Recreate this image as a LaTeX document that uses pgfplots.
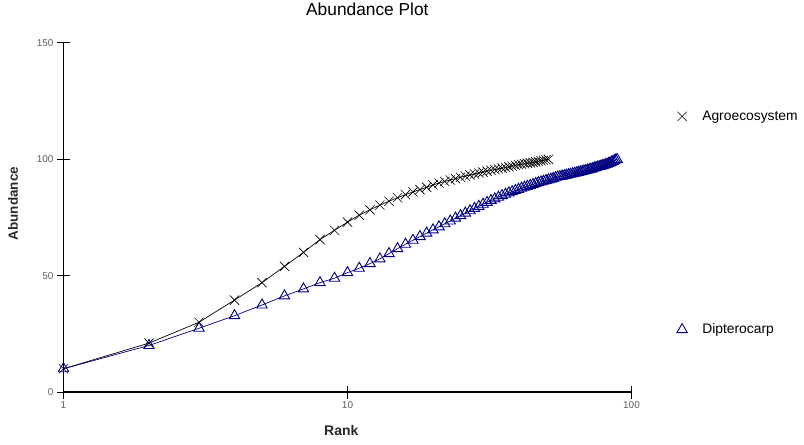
\documentclass[border=0pt]{standalone}
\usepackage{pgfplots}
\usepackage{pgfplotstable}
\pgfplotsset{compat=1.18}
\usepackage{fontspec}
\setmainfont{Liberation Sans}
\definecolor{navyc}{RGB}{0,0,128}
\definecolor{ticklab}{RGB}{95,95,95}
\definecolor{labc}{RGB}{40,40,40}

\pgfplotstableread{
rank value
1 10
2 21
3 30
4 39.5
5 47
6 54
7 60
8 65.5
9 69.5
10 73
11 76
12 78.3
13 80.3
14 82
15 83.5
16 84.8
17 86
18 87
19 88
20 89
21 89.8
22 90.5
23 91.1
24 91.7
25 92.3
26 92.8
27 93.3
28 93.7
29 94.1
30 94.5
31 94.9
32 95.3
33 95.6
34 95.9
35 96.2
36 96.5
37 96.8
38 97.1
39 97.4
40 97.7
41 97.9
42 98.1
43 98.3
44 98.5
45 98.7
46 98.9
47 99.1
48 99.4
49 99.6
50 99.8
51 100
}\agrotable

\pgfplotstableread{
rank value
1 10
2 20
3 27.4
4 32.8
5 37.4
6 41.3
7 44.3
8 47
9 48.9
10 51.3
11 53.2
12 55.2
13 57.2
14 59.5
15 61.6
16 63.5
17 65.2
18 66.8
19 68.3
20 69.7
21 71
22 72.3
23 73.5
24 74.7
25 75.8
26 76.9
27 77.9
28 78.9
29 79.8
30 80.7
31 81.5
32 82.3
33 83
34 83.7
35 84.4
36 85
37 85.6
38 86.1
39 86.6
40 87.1
41 87.6
42 88
43 88.4
44 88.8
45 89.2
46 89.6
47 90
48 90.3
49 90.6
50 90.9
51 91.2
52 91.5
53 91.8
54 92.1
55 92.4
56 92.6
57 92.8
58 93.0
59 93.2
60 93.4
61 93.6
62 93.8
63 94.0
64 94.2
65 94.4
66 94.6
67 94.8
68 95.0
69 95.2
70 95.4
71 95.6
72 95.8
73 96.0
74 96.3
75 96.5
76 96.7
77 96.9
78 97.1
79 97.3
80 97.5
81 97.7
82 97.9
83 98.2
84 98.5
85 98.8
86 99.1
87 99.4
88 99.7
89 100
}\diptable

\begin{document}
\begin{tikzpicture}
\path[use as bounding box] (-63.5bp,-53bp) rectangle (740.5bp,392bp);
\begin{axis}[
  scale only axis, width=568bp, height=349bp,
  at={(0,0)}, anchor=south west,
  xmode=log, xmin=1, xmax=100, ymin=0, ymax=150,
  xtick={1,10,100}, xticklabels={1,10,100},
  ytick={0,50,100,150},
  xminorticks=false, yminorticks=false,
  axis x line*=bottom, axis y line*=left,
  tick align=center, major tick length=13bp,
  every tick/.style={black, line width=1pt},
  axis line style={black, line width=1.1pt},
  tick label style={font=\fontsize{10}{11}\selectfont, text=ticklab},
  /pgf/number format/assume math mode=true,
  title={Abundance Plot},
  title style={at={(axis description cs:0.535,1)}, anchor=base, yshift=22bp, font=\fontsize{17.4}{19}\selectfont},
  xlabel={Rank},
  xlabel style={at={(axis description cs:0.489,-0.109)}, anchor=center, font=\bfseries\fontsize{14}{16}\selectfont, text=labc},
  ylabel={Abundance},
  ylabel style={at={(axis description cs:-0.089,0.54)}, anchor=center, font=\bfseries\fontsize{13.5}{16}\selectfont, text=labc},
  legend image code/.code={\draw[#1, only marks] plot coordinates {(0.2cm,0cm)};},
  legend cell align=left,
  legend style={draw=none, fill=none, at={(axis description cs:1.0796,0.812)}, anchor=north west,
    font=\fontsize{13.9}{16}\selectfont, row sep=198bp, inner sep=0pt,
    /tikz/every odd column/.append style={column sep=13bp}},
]
\addplot[black, line width=0.7pt, mark=x, mark size=6.5bp, mark options={line width=0.6pt}] table[x=rank, y=value] {\agrotable};
\addlegendentry{Agroecosystem}
\addplot[navyc, line width=0.7pt, mark=triangle, mark size=6bp, mark options={line width=0.9pt}] table[x=rank, y=value] {\diptable};
\addlegendentry{Dipterocarp}
\end{axis}
\end{tikzpicture}
\end{document}
